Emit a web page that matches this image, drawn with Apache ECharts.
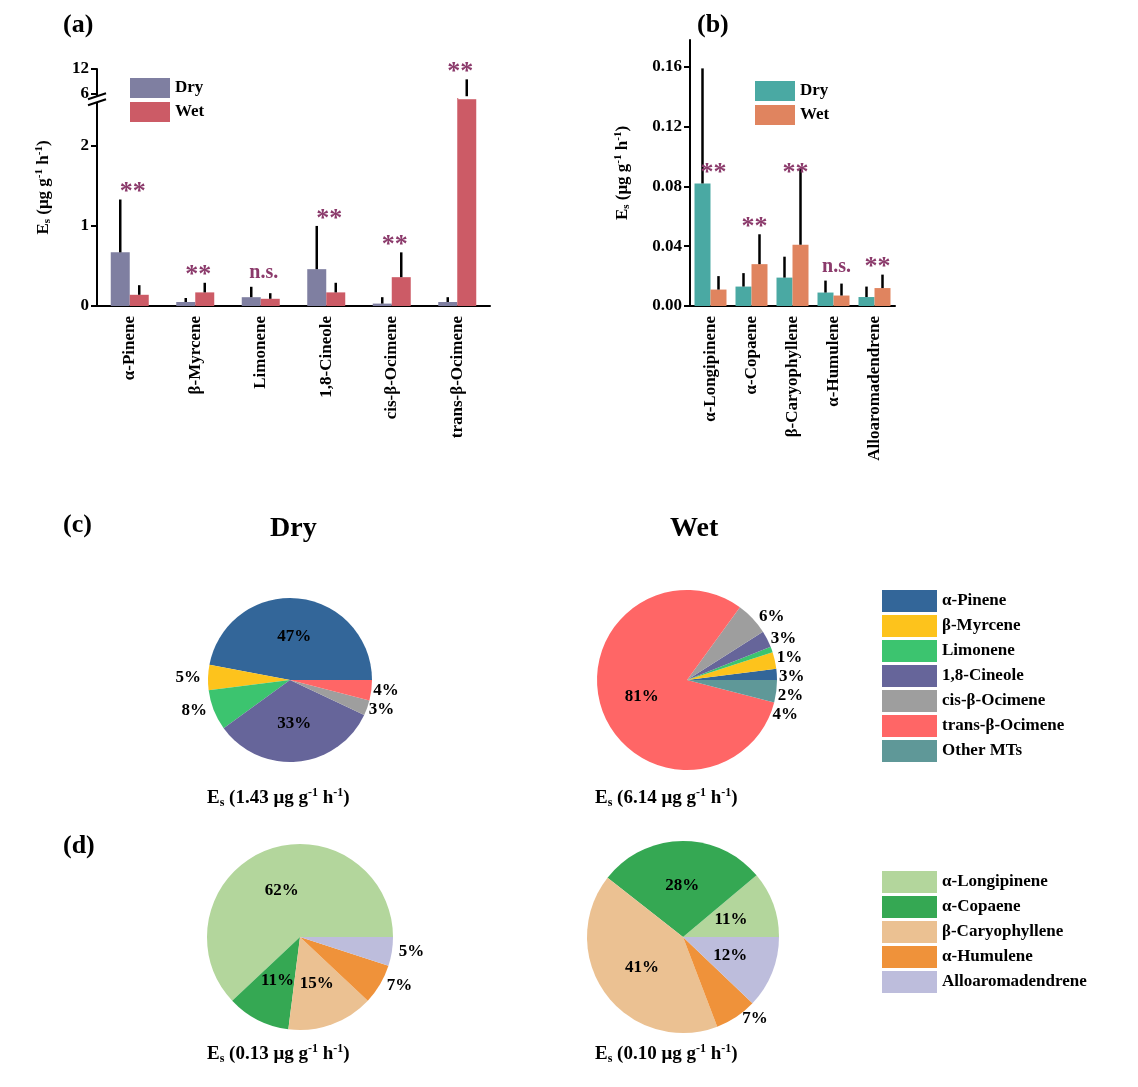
<!DOCTYPE html>
<html><head><meta charset="utf-8">
<script src="https://cdn.jsdelivr.net/npm/echarts@6/dist/echarts.min.js"></script>
<style>html,body{margin:0;padding:0;background:#fff}#main{width:1138px;height:1087px}</style>
</head><body><div id="main"></div>
<script>
var FONT = '"Liberation Serif", "DejaVu Serif", serif';

// panel (a) monoterpenes
var catsA = ['α-Pinene', 'β-Myrcene', 'Limonene', '1,8-Cineole', 'cis-β-Ocimene', 'trans-β-Ocimene'];
var dryA = [0.67, 0.05, 0.11, 0.46, 0.03, 0.05];
var dryErrA = [1.33, 0.10, 0.24, 1.00, 0.11, 0.11];
var wetA = [0.14, 0.17, 0.09, 0.17, 0.36, 5.0];
var wetErrA = [0.26, 0.29, 0.16, 0.29, 0.67, 9.5];
var sigA = ['**', '**', 'n.s.', '**', '**', '**'];
var ticksA = [0, 1, 2, 6, 12];

// panel (b) sesquiterpenes
var catsB = ['α-Longipinene', 'α-Copaene', 'β-Caryophyllene', 'α-Humulene', 'Alloaromadendrene'];
var dryB = [0.082, 0.013, 0.019, 0.009, 0.006];
var dryErrB = [0.159, 0.022, 0.033, 0.017, 0.013];
var wetB = [0.011, 0.028, 0.041, 0.007, 0.012];
var wetErrB = [0.020, 0.048, 0.092, 0.015, 0.021];
var sigB = ['**', '**', '**', 'n.s.', '**'];
var sigPosB = [0.084, 0.048, 0.084, 0.017, 0.021];

// panel (c) pies
var mtNames = ['α-Pinene', 'β-Myrcene', 'Limonene', '1,8-Cineole', 'cis-β-Ocimene', 'trans-β-Ocimene', 'Other MTs'];
var mtColors = ['#336699', '#fdc31c', '#3cc46f', '#66659a', '#9e9e9e', '#ff6666', '#5f9898'];
var mtDry = [47, 5, 8, 33, 3, 4, 0];
var mtWet = [2, 3, 1, 3, 6, 81, 4];
// panel (d) pies
var stNames = ['α-Longipinene', 'α-Copaene', 'β-Caryophyllene', 'α-Humulene', 'Alloaromadendrene'];
var stColors = ['#b3d69c', '#35a853', '#ebc192', '#ef923a', '#bdbddc'];
var stDry = [62, 11, 15, 7, 5];
var stWet = [11, 28, 41, 7, 12];
var totals = ['1.43', '6.14', '0.13', '0.10'];

// broken axis for (a): linear to 2.5, compressed above
function T(v) { return v <= 2.5 ? v : 2.65 + (v - 6) * (0.31 / 6); }
function Tinv(t) { return t <= 2.5 ? t : Math.round(6 + (t - 2.65) * 6 / 0.31); }

var chart = echarts.init(document.getElementById('main'));
var BW = 19, BWB = 16;
function ts(size) { return { fontFamily: FONT, fontWeight: 'bold', fontSize: size, color: '#000' }; }

function errSeries(xi, yi, vals, errs, off) {
  return {
    type: 'custom', xAxisIndex: xi, yAxisIndex: yi, z: 5,
    data: vals.map(function (v, i) { return [i, v, errs[i]]; }),
    renderItem: function (p, api) {
      var a = api.coord([api.value(0), api.value(1)]);
      var b = api.coord([api.value(0), api.value(2)]);
      return { type: 'line', shape: { x1: a[0] + off, y1: a[1], x2: a[0] + off, y2: b[1] },
        style: { stroke: '#000', lineWidth: 2.5 } };
    }
  };
}
function sigSeries(xi, yi, tops, sig) {
  return {
    type: 'custom', xAxisIndex: xi, yAxisIndex: yi, z: 6,
    data: tops.map(function (v, i) { return [i, v]; }),
    renderItem: function (p, api) {
      var c = api.coord([api.value(0), api.value(1)]);
      var s = sig[p.dataIndex];
      return { type: 'text', x: c[0] + 3, y: c[1] + (s === '**' ? 6 : -4),
        style: { text: s, fill: '#8b3a6b', fontFamily: FONT, fontWeight: 'bold', fontSize: s === '**' ? 26 : 20,
          textAlign: 'center', textVerticalAlign: 'bottom' } };
    }
  };
}
var richName = {
  b: ts(17),
  s: Object.assign(ts(11), { verticalAlign: 'bottom', padding: [8, 0, 0, 0] }),
  p: Object.assign(ts(11), { verticalAlign: 'top', padding: [0, 0, 8, 0] })
};
function axisNameRich(gap) {
  return {
    name: '{b|E}{s|s}{b| (μg g}{p|-1}{b| h}{p|-1}{b|)}',
    nameLocation: 'middle', nameRotate: 90, nameGap: gap,
    nameTextStyle: { rich: richName }
  };
}
var axisStyle = { lineStyle: { color: '#000', width: 2 } };
var catLabel = Object.assign({ rotate: 90, margin: 10 }, ts(17));
var valLabel = Object.assign({ margin: 8 }, ts(17));

var maxA = dryErrA.map(function (v, i) { return T(Math.max(v, wetErrA[i])); });

function pieSeries(names, vals, colors, center, r, inside) {
  return {
    type: 'pie', center: center, radius: r, startAngle: 0, clockwise: false,
    avoidLabelOverlap: true, silent: true,
    data: names.map(function (n, i) {
      var d = { name: n, value: vals[i], itemStyle: { color: colors[i] } };
      if (vals[i] === 0) d.label = { show: false };
      else if (inside.indexOf(i) >= 0) d.label = { position: 'inside' };
      return d;
    }),
    label: Object.assign({ formatter: '{c}%', position: 'outside' }, ts(17)),
    labelLine: { show: false, length: 2, length2: 0 },
    emphasis: { disabled: true }
  };
}
function caption(x, y, v) {
  var f = function (size, extra) { return Object.assign({ fontFamily: FONT, fontWeight: 'bold', fontSize: size, fill: '#000' }, extra || {}); };
  return { type: 'text', left: x, top: y, style: {
    text: '{b|E}{s|s}{b| (' + v + ' μg g}{p|-1}{b| h}{p|-1}{b|)}',
    rich: { b: f(19), s: f(12, { verticalAlign: 'bottom', padding: [10, 0, 0, 0] }),
      p: f(12, { verticalAlign: 'top', padding: [0, 0, 10, 0] }) } } };
}
function ptext(x, y, t, size) {
  return { type: 'text', left: x, top: y, style: { text: t, fontFamily: FONT, fontWeight: 'bold', fontSize: size, fill: '#000' } };
}
var legText = ts(17);

var option = {
  animation: false,
  backgroundColor: '#fff',
  grid: [
    { left: 97, top: 69, width: 393, height: 237 },
    { left: 690, top: 40, width: 205, height: 266 }
  ],
  legend: [
    { data: ['Dry', 'Wet'], left: 125, top: 73, orient: 'vertical', itemWidth: 40, itemHeight: 20, itemGap: 4,
      icon: 'rect', textStyle: legText },
    { data: mtNames, left: 877, top: 585, orient: 'vertical', itemWidth: 55, itemHeight: 22, itemGap: 3,
      icon: 'rect', textStyle: legText },
    { data: stNames, left: 877, top: 866, orient: 'vertical', itemWidth: 55, itemHeight: 22, itemGap: 3,
      icon: 'rect', textStyle: legText }
  ],
  xAxis: [
    { type: 'category', gridIndex: 0, data: catsA, axisLine: axisStyle, axisTick: { lineStyle: { color: '#000', width: 2 }, length: 6 },
      axisLabel: catLabel },
    { type: 'category', gridIndex: 1, data: catsB, axisLine: axisStyle, axisTick: { lineStyle: { color: '#000', width: 2 }, length: 6 },
      axisLabel: catLabel }
  ],
  yAxis: [
    Object.assign({ type: 'value', gridIndex: 0, min: 0, max: T(12), splitLine: { show: false },
      axisLine: { show: true, lineStyle: { color: '#000', width: 2 } },
      axisTick: { show: true, length: 6, lineStyle: { color: '#000', width: 2 }, customValues: ticksA.map(T) },
      axisLabel: Object.assign({ customValues: ticksA.map(T), formatter: function (t) { return Tinv(t); } }, valLabel)
    }, axisNameRich(44)),
    Object.assign({ type: 'value', gridIndex: 1, min: 0, max: 0.178, interval: 0.04, splitLine: { show: false },
      axisLine: { show: true, lineStyle: { color: '#000', width: 2 } },
      axisTick: { show: true, length: 6, lineStyle: { color: '#000', width: 2 } },
      axisLabel: Object.assign({ showMaxLabel: false, formatter: function (v) { return v.toFixed(2); } }, valLabel)
    }, axisNameRich(58))
  ],
  series: [
    { type: 'bar', name: 'Dry', xAxisIndex: 0, yAxisIndex: 0, data: dryA.map(T), barWidth: BW, barGap: '0%', itemStyle: { color: '#7f7fa1' } },
    { type: 'bar', name: 'Wet', xAxisIndex: 0, yAxisIndex: 0, data: wetA.map(T), barWidth: BW, barGap: '0%', itemStyle: { color: '#cc5b66' } },
    errSeries(0, 0, dryA.map(T), dryErrA.map(T), -BW / 2),
    errSeries(0, 0, wetA.map(T), wetErrA.map(T), BW / 2),
    sigSeries(0, 0, maxA, sigA),
    { type: 'bar', name: 'Dry', xAxisIndex: 1, yAxisIndex: 1, data: dryB, barWidth: BWB, barGap: '0%', itemStyle: { color: '#4aa9a3' } },
    { type: 'bar', name: 'Wet', xAxisIndex: 1, yAxisIndex: 1, data: wetB, barWidth: BWB, barGap: '0%', itemStyle: { color: '#e0845f' } },
    errSeries(1, 1, dryB, dryErrB, -BWB / 2),
    errSeries(1, 1, wetB, wetErrB, BWB / 2),
    sigSeries(1, 1, sigPosB, sigB),
    pieSeries(mtNames, mtDry, mtColors, [290, 680], 82, [0, 3]),
    pieSeries(mtNames, mtWet, mtColors, [687, 680], 90, [5]),
    pieSeries(stNames, stDry, stColors, [300, 937], 93, [0, 1, 2]),
    pieSeries(stNames, stWet, stColors, [683, 937], 96, [0, 1, 2, 4])
  ],
  graphic: [
    ptext(63, 12, '(a)', 26), ptext(697, 12, '(b)', 26), ptext(63, 512, '(c)', 26), ptext(63, 833, '(d)', 26),
    ptext(270, 515, 'Dry', 28), ptext(670, 515, 'Wet', 28),
    caption(207, 787, totals[0]), caption(595, 787, totals[1]),
    caption(207, 1043, totals[2]), caption(595, 1043, totals[3])
  ]
};
// legend for (b) drawn as a second legend bound to the teal/orange colours
option.legend.push({ data: [{ name: 'Dry', itemStyle: { color: '#4aa9a3' } }, { name: 'Wet', itemStyle: { color: '#e0845f' } }],
  left: 750, top: 76, orient: 'vertical', itemWidth: 40, itemHeight: 20, itemGap: 4, icon: 'rect', textStyle: legText });
chart.setOption(option);

// axis break marks for (a)
var p0 = chart.convertToPixel({ gridIndex: 0 }, [5, 2.5]);
var yb = chart.convertToPixel({ gridIndex: 0 }, [0, 2.57])[1];
chart.setOption({ graphic: option.graphic.concat([
  { type: 'rect', shape: { x: 90, y: yb - 4, width: 14, height: 6 }, style: { fill: '#fff' }, z: 100 },
  { type: 'line', shape: { x1: 88, y1: yb - 1, x2: 106, y2: yb - 7 }, style: { stroke: '#000', lineWidth: 2 }, z: 101 },
  { type: 'line', shape: { x1: 88, y1: yb + 5, x2: 106, y2: yb - 1 }, style: { stroke: '#000', lineWidth: 2 }, z: 101 },
  { type: 'rect', shape: { x: p0[0] + 1, y: yb - 4, width: BW + 2, height: 3 }, style: { fill: '#fff' }, z: 100 }
]) });
</script></body></html>
